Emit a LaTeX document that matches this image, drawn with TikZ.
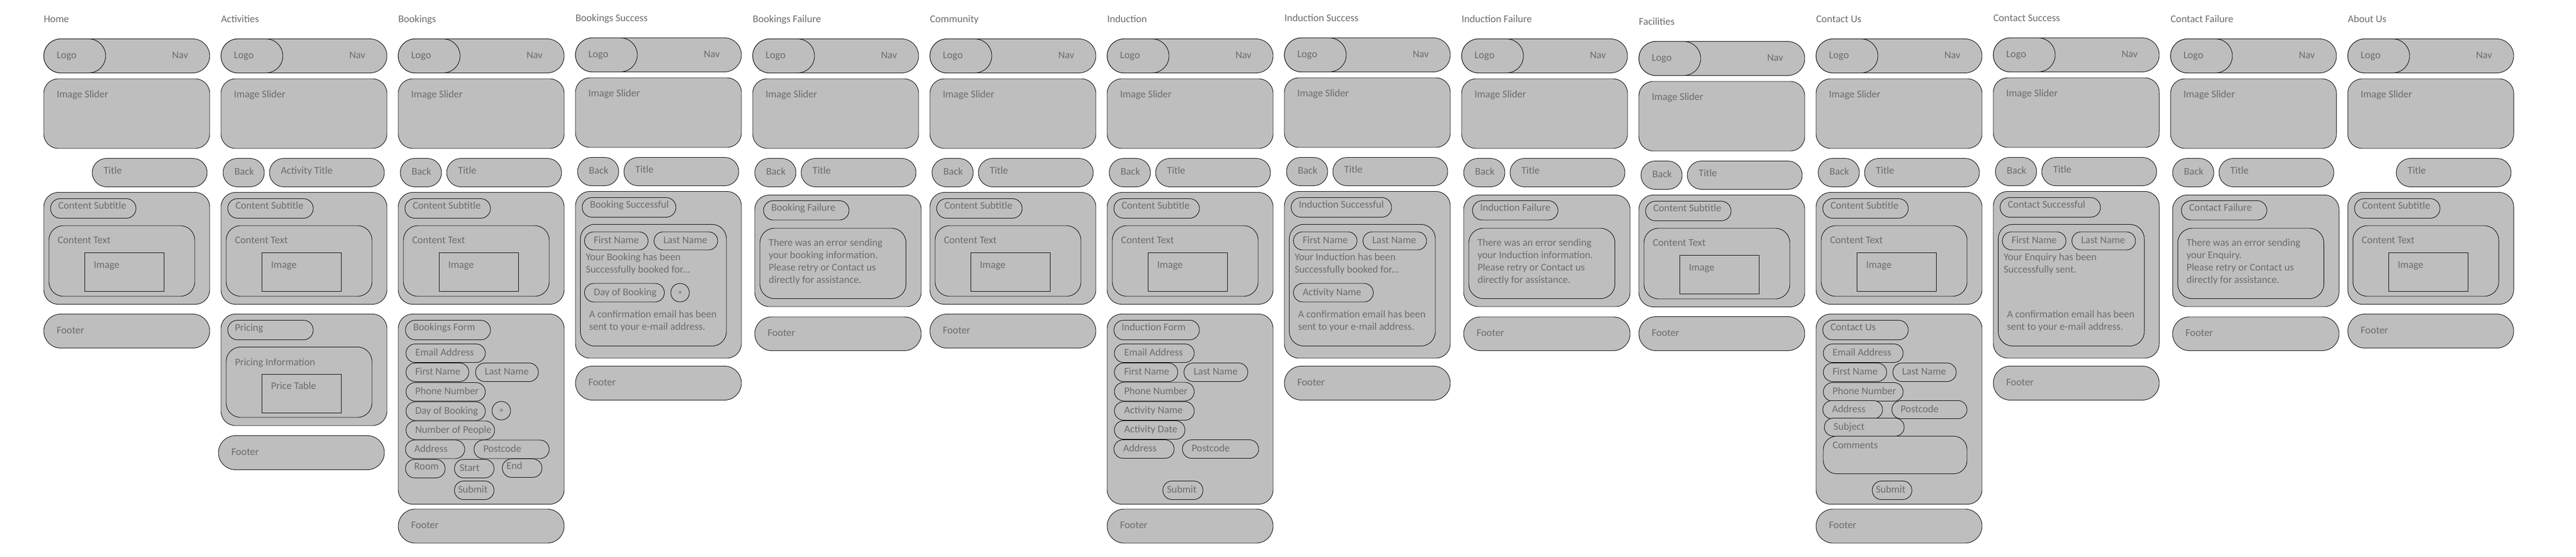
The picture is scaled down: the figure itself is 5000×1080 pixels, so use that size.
\documentclass[tikz,border=0pt]{standalone}
\usepackage{fontspec}
\setmainfont{Carlito}
\definecolor{boxgrey}{RGB}{190,190,190}
\definecolor{inkgrey}{RGB}{108,108,108}
\tikzset{
  wire/.style={draw=black, fill=boxgrey, line width=0.9pt, inner sep=0pt, outer sep=0pt, anchor=north west},
  lbl/.style={text=inkgrey, font=\fontsize{20}{24}\selectfont, inner sep=0pt, outer sep=0pt, anchor=mid west},
  plusbtn/.style={wire, circle, minimum size=36pt, anchor=center, text=inkgrey, font=\fontsize{16}{18}\selectfont}
}
\newcommand{\blk}[6][28]{\node[wire, rounded corners=#1pt, minimum width=#5pt, minimum height=#6pt] (#2) at (#3,#4) {};}
\newcommand{\panel}[9][28]{\blk[#1]{#2}{#3}{#4}{#5}{#6}\node[lbl] (#2-t) at ({#3+#8},{#4+#9}) {#7};}
\newcommand{\imgbox}[8]{\node[wire, minimum width=#4pt, minimum height=#5pt] (#1) at (#2,#3) {};\node[lbl] (#1-t) at ({#2+#7},{#3+#8}) {#6};}
\newcommand{\pill}[8][2.5]{\pgfmathsetmacro{\pillr}{#6/2}\blk[\pillr]{#2}{#3}{#4}{#5}{#6}\node[lbl] (#2-t) at ({#3+#8},{#4+#6/2+#1}) {#7};}
\newcommand{\lines}[4]{\foreach \ln [count=\k] in {#4} {\node[lbl] (#1-\k) at (#2,{#3+24*(\k-1)}) {\ln};}}
\newcommand{\stdcontent}[1]{%
  \blk{#1-main}{0}{373.5}{322}{217}
  \pill[-1]{#1-sub}{13}{385.5}{166}{38}{Content Subtitle}{15}
  \panel{#1-text}{10}{438}{283}{137}{Content Text}{17}{32.5}
  \imgbox{#1-img}{79}{490.5}{154}{75}{Image}{18}{27.5}}
\newcommand{\success}[5]{%
  \blk{#1-main}{0}{373.5}{322}{323.5}
  \pill[-1]{#1-head}{13}{385.5}{#3}{38}{#2}{15}
  \blk{#1-inner}{9.5}{437.5}{283.5}{236}
  \pill[3]{#1-first}{17.5}{452}{123.5}{35}{First Name}{18}
  \pill[3]{#1-last}{152.5}{452}{123.5}{35}{Last Name}{18}
  \lines{#1-msg}{20}{505.5}{{#4},{#5}}
  \lines{#1-conf}{26.5}{616.5}{A confirmation email has been,sent to your e-mail address.}
  \pill{#1-foot}{0}{712.5}{322}{66}{Footer}{25}}
\newcommand{\failure}[3]{%
  \blk{#1-main}{4}{378.5}{323}{216.5}
  \pill[-1]{#1-head}{21}{389.5}{166}{37.5}{#2}{15}
  \blk{#1-inner}{14}{443}{283.5}{136.5}
  \lines{#1-msg}{31}{475.5}{There was an error sending,{#3},Please retry or Contact us,directly for assistance.}
  \pill{#1-foot}{4}{615}{323}{65.5}{Footer}{25}}
\begin{document}
\begin{tikzpicture}[x=1pt, y=-1pt]
\useasboundingbox (0,0) rectangle (5000,1080);
\foreach \i/\dy/\pg/\pname/\hasback/\ttl in {
  0/0/home/Home/0/Title,
  1/0/act/Activities/1/Activity Title,
  2/0/book/Bookings/1/Title,
  3/-2/bsucc/Bookings Success/1/Title,
  4/0/bfail/Bookings Failure/1/Title,
  5/0/comm/Community/1/Title,
  6/0/ind/Induction/1/Title,
  7/-2/isucc/Induction Success/1/Title,
  8/0/ifail/Induction Failure/1/Title,
  9/5/fac/Facilities/1/Title,
  10/0/contact/Contact Us/1/Title,
  11/-2/csucc/Contact Success/1/Title,
  12/0/cfail/Contact Failure/1/Title,
  13/0/about/About Us/0/Title}{
  \begin{scope}[shift={(85+344*\i,\dy)}]
    \node[lbl] (\pg-name) at (0,41.5) {\pname};
    \blk[33]{\pg-bar}{0}{75.5}{322}{66}
    \blk[33]{\pg-logo}{0}{75.5}{120}{66}
    \node[lbl] (\pg-logo-t) at (25,111.5) {Logo};
    \node[lbl] (\pg-nav) at (249,111.5) {Nav};
    \panel{\pg-slider}{0}{153}{322}{135}{Image Slider}{25}{34.5}
    \ifnum\hasback=1\relax
      \pill{\pg-back}{4}{307.5}{80}{55}{Back}{22}
    \fi
    \pill[0.5]{\pg-title}{94}{307.5}{223}{55}{\ttl}{22}
  \end{scope}}
\begin{scope}[shift={(85,0)}]
  \stdcontent{home}
  \pill{home-foot}{0}{609.5}{322}{66}{Footer}{25}
\end{scope}
\begin{scope}[shift={(429,0)}]
  \stdcontent{act}
  \blk{act-price}{0}{609.5}{322}{216.5}
  \pill[0]{act-pricing}{13}{621.5}{166}{38}{Pricing}{14}
  \panel{act-info}{10}{673.5}{283}{136.5}{Pricing Information}{17}{33.5}
  \imgbox{act-table}{79}{726.5}{154}{75}{Price Table}{18}{27}
  \pill{act-foot}{-5}{845.5}{322}{66}{Footer}{25}
\end{scope}
\begin{scope}[shift={(773,0)}]
  \stdcontent{book}
  \blk{book-form}{0}{609.5}{322}{369}
  \pill[-1]{book-formt}{14}{621.5}{165}{38}{Bookings Form}{15}
  \pill[3]{book-email}{15}{667.5}{154}{36}{Email Address}{18}
  \pill[3]{book-first}{15}{704.5}{122}{36}{First Name}{18}
  \pill[3]{book-last}{150}{704.5}{122}{36}{Last Name}{18}
  \pill[3]{book-phone}{15}{742.5}{154}{36}{Phone Number}{18}
  \pill[3]{book-day}{15}{780}{154}{36}{Day of Booking}{18}
  \node[plusbtn] (book-plus) at (200,797) {+};
  \pill[3]{book-people}{15}{817}{172}{36}{Number of People}{18}
  \pill[3]{book-addr}{14}{854}{115}{36}{Address}{17}
  \pill[3]{book-post}{147}{854}{146}{36}{Postcode}{18}
  \pill[0]{book-room}{14}{891.5}{77}{36}{Room}{17}
  \pill[3]{book-start}{109}{891.5}{77}{36}{Start}{10}
  \pill[0]{book-end}{202}{890.5}{77}{36}{End}{8}
  \pill[3]{book-submit}{109}{933.5}{77}{36}{Submit}{7}
  \pill{book-foot}{0}{988}{322}{66}{Footer}{25}
\end{scope}
\begin{scope}[shift={(1117,-2)}]
  \success{bsucc}{Booking Successful}{182}{Your Booking has been}{Successfully booked for.{}.{}.}
  \pill[3]{bsucc-day}{17.5}{552}{155}{36}{Day of Booking}{18}
  \node[plusbtn] (bsucc-plus) at (203,570) {+};
\end{scope}
\begin{scope}[shift={(1461,0)}]
  \failure{bfail}{Booking Failure}{your booking information.}
\end{scope}
\begin{scope}[shift={(1805,0)}]
  \stdcontent{comm}
  \pill{comm-foot}{0}{609.5}{322}{66}{Footer}{25}
\end{scope}
\begin{scope}[shift={(2149,0)}]
  \stdcontent{ind}
  \blk{ind-form}{0}{609.5}{322}{369}
  \pill[-1]{ind-formt}{13}{621.5}{166}{38}{Induction Form}{15}
  \pill[3]{ind-email}{14}{667.5}{155}{36}{Email Address}{19}
  \pill[3]{ind-first}{14}{704.5}{123}{36}{First Name}{19}
  \pill[3]{ind-last}{149}{704.5}{124}{36}{Last Name}{19}
  \pill[3]{ind-phone}{14}{742}{155}{36}{Phone Number}{19}
  \pill[3]{ind-actname}{14}{779.5}{155}{36}{Activity Name}{19}
  \pill[3]{ind-actdate}{14}{816.5}{137}{36}{Activity Date}{19}
  \pill[3]{ind-addr}{13}{853.5}{117}{36}{Address}{18}
  \pill[3]{ind-post}{146}{853.5}{148}{36}{Postcode}{18}
  \pill[3]{ind-submit}{108}{933.5}{78}{36}{Submit}{8}
  \pill{ind-foot}{0}{988}{322}{66}{Footer}{25}
\end{scope}
\begin{scope}[shift={(2493,-2)}]
  \success{isucc}{Induction Successful}{195}{Your Induction has been}{Successfully booked for.{}.{}.}
  \pill[3]{isucc-act}{17.5}{552}{155}{36}{Activity Name}{18}
\end{scope}
\begin{scope}[shift={(2837,0)}]
  \failure{ifail}{Induction Failure}{your Induction information.}
\end{scope}
\begin{scope}[shift={(3181,5)}]
  \stdcontent{fac}
  \pill{fac-foot}{0}{609.5}{322}{66}{Footer}{25}
\end{scope}
\begin{scope}[shift={(3525,0)}]
  \stdcontent{contact}
  \blk{contact-form}{0}{609.5}{322}{369}
  \pill[-1]{contact-formt}{13}{621.5}{166}{38}{Contact Us}{15}
  \pill[3]{contact-email}{14}{667.5}{155}{36}{Email Address}{18}
  \pill[3]{contact-first}{14}{704.5}{123}{36}{First Name}{18}
  \pill[3]{contact-last}{149}{704.5}{123}{36}{Last Name}{18}
  \pill[3]{contact-phone}{14}{742.5}{155}{36}{Phone Number}{18}
  \pill[3]{contact-addr}{13}{777.5}{116}{35}{Address}{18}
  \pill[3]{contact-post}{147}{777.5}{146}{35}{Postcode}{17}
  \pill[3]{contact-subject}{16}{811.5}{155}{35}{Subject}{18}
  \panel[26]{contact-comments}{14}{846.5}{279}{73}{Comments}{18}{21.5}
  \pill[3]{contact-submit}{109}{933.5}{77}{36}{Submit}{7}
  \pill{contact-foot}{0}{988}{322}{66}{Footer}{25}
\end{scope}
\begin{scope}[shift={(3869,-2)}]
  \success{csucc}{Contact Successful}{195}{Your Enquiry has been}{Successfully sent.}
\end{scope}
\begin{scope}[shift={(4213,0)}]
  \failure{cfail}{Contact Failure}{your Enquiry.}
\end{scope}
\begin{scope}[shift={(4557,0)}]
  \stdcontent{about}
  \pill{about-foot}{0}{609.5}{322}{66}{Footer}{25}
\end{scope}
\end{tikzpicture}
\end{document}
